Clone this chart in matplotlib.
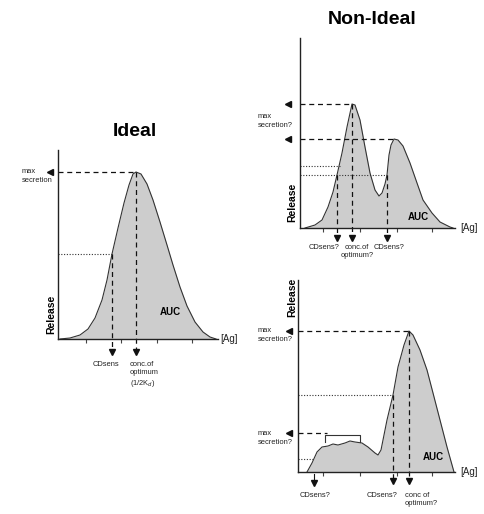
import matplotlib.pyplot as plt
import numpy as np

plt.rcParams['font.family'] = ['Liberation Sans', 'DejaVu Sans']

W, H = 485, 514

# curves (units: pixels from each panel's origin)
ideal_x = [2, 12, 22, 30, 37, 44, 49, 54, 60, 66, 71, 75, 78, 83, 89, 95, 102, 109, 115, 122, 129, 137, 145, 152, 158]
ideal_y = [0, 1, 4, 10, 21, 39, 59, 85, 111, 136, 154, 165, 167, 165, 155, 139, 117, 94, 74, 52, 33, 17, 7, 2, 0]

top_x = [5, 15, 22, 28, 33, 37, 42, 47, 52, 55, 60, 65, 70, 75, 79, 82, 85, 87, 89, 91, 94, 98, 103, 110,
         117, 123, 132, 140, 150, 153]
top_y = [0, 3, 8, 21, 36, 53, 75, 101, 124, 123, 108, 81, 55, 38, 32, 35, 44, 53, 73, 83, 89, 88, 82, 65,
         45, 28, 15, 6, 1, 0]

bot_x = [9, 14, 19, 24, 30, 35, 40, 47, 52, 57, 64, 70, 77, 80, 83, 85, 89, 95, 100, 106, 111, 115, 122,
         129, 135, 142, 149, 156]
bot_y = [0, 9, 20, 25, 26, 28, 27, 29, 31, 30, 29, 25, 19, 17, 22, 32, 52, 77, 105, 127, 141, 137, 122,
         102, 79, 52, 25, 0]

ideal_ticks = [28, 63, 99, 134]
top_ticks = [23, 60, 97, 132]
bot_ticks = [25, 62, 99, 134]

# sensitivity points (x, y) on each curve
ideal_sens = [(54, 85)]
top_sens = [(37, 53), (87, 53)]
top_dot_levels = [(62, 40), (53, 87)]   # (y, end x)
bot_sens = [(95, 77)]
bot_low = (16, 13)

FILL = '#cdcdcd'
LINE = '#333333'
SMALL = 5.4

fig = plt.figure(figsize=(W / 100, H / 100), dpi=100)


def panel(x0, top, w, h):
    ax = fig.add_axes([x0 / W, 1 - (top + h) / H, w / W, h / H])
    ax.set_xlim(0, w)
    ax.set_ylim(0, h)
    ax.patch.set_alpha(0)
    for s in ['top', 'right']:
        ax.spines[s].set_visible(False)
    for s in ['left', 'bottom']:
        ax.spines[s].set_linewidth(1.0)
        ax.spines[s].set_color('#222222')
    ax.set_yticks([])
    ax.tick_params(axis='x', length=3, width=0.8, direction='out', labelbottom=False, color='#444444')
    return ax


def curve(ax, x, y, ticks):
    ax.fill_between(x, y, 0, color=FILL, lw=0)
    ax.plot(x, y, color=LINE, lw=0.8)
    ax.set_xticks(ticks)


def dashed(ax, xs, ys):
    ax.plot(xs, ys, color='#111111', lw=0.9, ls=(0, (4, 3)), clip_on=False)


def dotted(ax, xs, ys):
    ax.plot(xs, ys, color='#333333', lw=0.8, ls=(0, (1, 1.5)), clip_on=False)


def left_arrow(ax, xa, y):
    ax.plot([xa], [y], marker='<', ms=4, color='#111111', clip_on=False)


def down_arrow(ax, x, ya):
    ax.plot([x], [ya], marker='v', ms=4, color='#111111', clip_on=False)


def small(ax, x, y, s, **kw):
    kw.setdefault('fontsize', SMALL)
    ax.text(x, y, s, color='#222222', clip_on=False, linespacing=1.25, **kw)


# ---- Ideal
ax1 = panel(58, 150, 160, 189)
curve(ax1, ideal_x, ideal_y, ideal_ticks)
pk = int(np.argmax(ideal_y))
px_, py_ = ideal_x[pk], ideal_y[pk]
dashed(ax1, [0, px_], [py_, py_])
left_arrow(ax1, -8, py_)
dashed(ax1, [px_, px_], [py_, -10])
down_arrow(ax1, px_, -13)
sx, sy = ideal_sens[0]
dotted(ax1, [0, sx], [sy, sy])
dashed(ax1, [sx, sx], [sy, -10])
down_arrow(ax1, sx, -13)
ax1.text(77, 207, 'Ideal', ha='center', va='center', fontsize=14, fontweight='bold', clip_on=False)
small(ax1, -36, 163, 'max\nsecretion', ha='left', va='center')
ax1.text(-7, 25, 'Release', rotation=90, ha='center', va='center', fontsize=7.5, fontweight='bold')
ax1.text(112, 27, 'AUC', ha='center', va='center', fontsize=7, fontweight='bold')
small(ax1, 162, 0, '[Ag]', ha='left', va='center', fontsize=7)
small(ax1, 48, -22, 'CDsens', ha='center', va='top')
small(ax1, 72, -22, 'conc.of\noptimum\n(1/2K$_d$)', ha='left', va='top')

# ---- Non-Ideal, top
ax2 = panel(300, 38, 155, 190)
curve(ax2, top_x, top_y, top_ticks)
ty = np.array(top_y)
p1 = int(np.argmax(ty[:12]))
p2 = 12 + int(np.argmax(ty[12:]))
for p in (p1, p2):
    dashed(ax2, [0, top_x[p]], [top_y[p], top_y[p]])
    left_arrow(ax2, -12, top_y[p])
dashed(ax2, [top_x[p1], top_x[p1]], [top_y[p1], -7])
down_arrow(ax2, top_x[p1], -10)
for lvl, xe in top_dot_levels:
    dotted(ax2, [0, xe], [lvl, lvl])
for sx, sy in top_sens:
    dashed(ax2, [sx, sx], [sy, -7])
    down_arrow(ax2, sx, -10)
ax2.text(72, 208, 'Non-Ideal', ha='center', va='center', fontsize=14, fontweight='bold', clip_on=False)
small(ax2, -42, 107, 'max\nsecretion?', ha='left', va='center')
ax2.text(-8, 26, 'Release', rotation=90, ha='center', va='center', fontsize=7.5, fontweight='bold')
ax2.text(118, 11, 'AUC', ha='center', va='center', fontsize=7, fontweight='bold')
small(ax2, 160, 0, '[Ag]', ha='left', va='center', fontsize=7)
small(ax2, 24, -16, 'CDsens?', ha='center', va='top')
small(ax2, 57, -16, 'conc.of\noptimum?', ha='center', va='top')
small(ax2, 89, -16, 'CDsens?', ha='center', va='top')

# ---- Non-Ideal, bottom
ax3 = panel(298, 280, 157, 192)
curve(ax3, bot_x, bot_y, bot_ticks)
pk = int(np.argmax(bot_y))
px_, py_ = bot_x[pk], bot_y[pk]
dashed(ax3, [0, px_], [py_, py_])
left_arrow(ax3, -9, py_)
dashed(ax3, [px_, px_], [py_, -6])
down_arrow(ax3, px_, -9)
sx, sy = bot_sens[0]
dotted(ax3, [0, sx], [sy, sy])
dashed(ax3, [sx, sx], [sy, -6])
down_arrow(ax3, sx, -9)
plateau = max(bot_y[:13])
dashed(ax3, [0, 29], [plateau + 8, plateau + 8])
left_arrow(ax3, -9, plateau + 8)
ax3.plot([27, 27, 62, 62], [plateau - 1, plateau + 6, plateau + 6, plateau - 1], color='#333333', lw=0.8)
lx, ly = bot_low
dotted(ax3, [0, lx], [ly, ly])
ax3.plot([lx, lx], [-2, -8], color='#111111', lw=0.8, clip_on=False)
down_arrow(ax3, lx, -11)
ax3.text(-6, 175, 'Release', rotation=90, ha='center', va='center', fontsize=7.5, fontweight='bold',
         clip_on=False)
small(ax3, -40, 137, 'max\nsecretion?', ha='left', va='center')
small(ax3, -40, 34, 'max\nsecretion?', ha='left', va='center')
ax3.text(135, 15, 'AUC', ha='center', va='center', fontsize=7, fontweight='bold')
small(ax3, 162, 0, '[Ag]', ha='left', va='center', fontsize=7)
small(ax3, 17, -20, 'CDsens?', ha='center', va='top')
small(ax3, 84, -20, 'CDsens?', ha='center', va='top')
small(ax3, 107, -20, 'conc of\noptimum?', ha='left', va='top')

fig.savefig('out.png', dpi=100)
